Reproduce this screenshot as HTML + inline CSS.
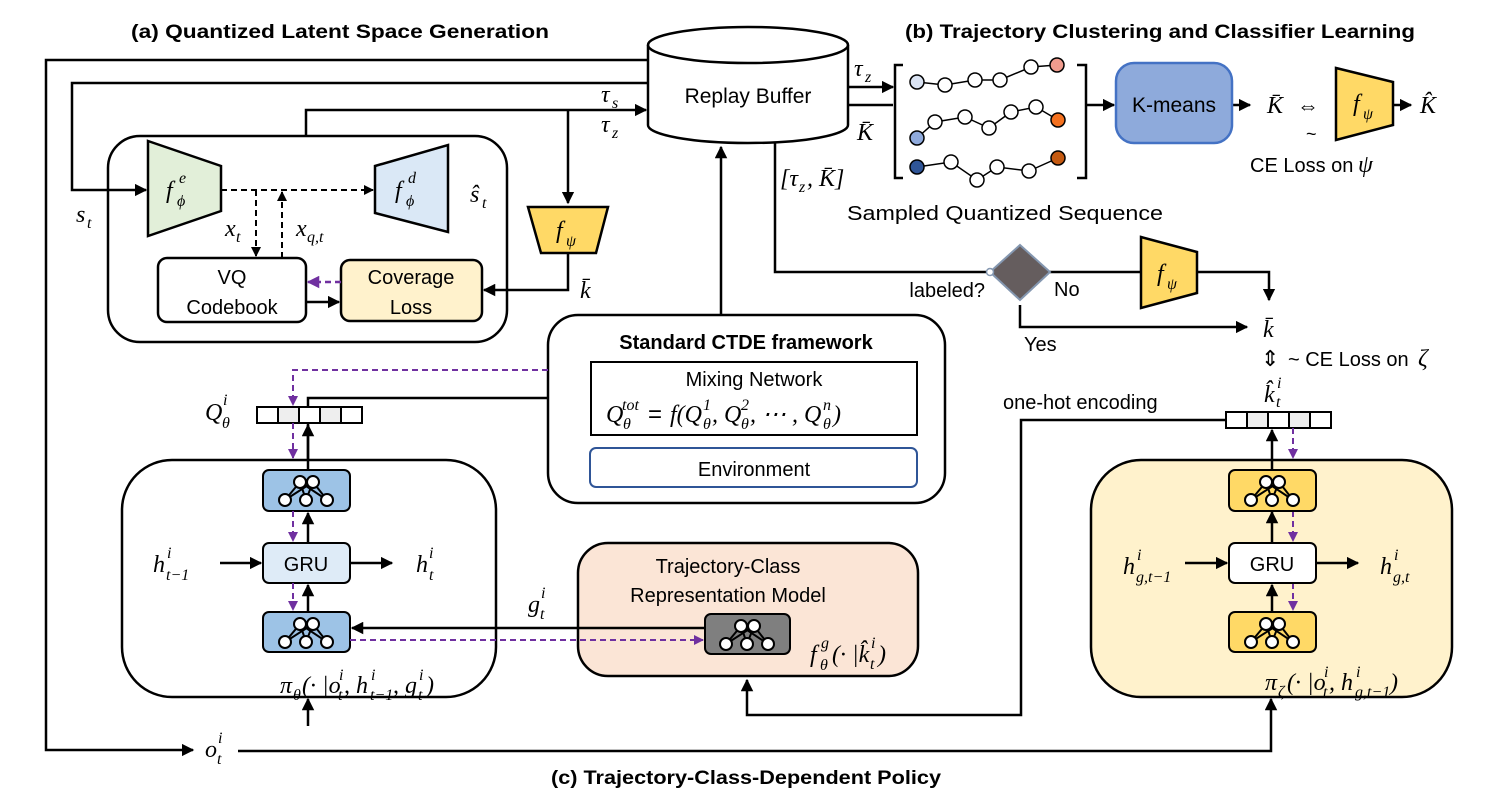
<!DOCTYPE html>
<html><head><meta charset="utf-8"><style>
html,body{margin:0;padding:0;background:#fff;}
svg{display:block;}
text{font-family:"Liberation Sans",sans-serif;fill:#000;}
.m{font-family:"Liberation Serif",serif;font-style:italic;font-size:24px;}
.s{font-family:"Liberation Serif",serif;font-style:italic;font-size:16px;}
.b{font-weight:bold;}
</style></head><body>
<svg width="1496" height="810" viewBox="0 0 1496 810" xmlns="http://www.w3.org/2000/svg">
<defs>
<marker id="a" viewBox="0 0 10 10" refX="9" refY="5" markerWidth="5" markerHeight="5" orient="auto-start-reverse"><path d="M0,0L10,5L0,10z" fill="#000"/></marker>
<marker id="p" viewBox="0 0 10 10" refX="9" refY="5" markerWidth="5" markerHeight="5" orient="auto-start-reverse"><path d="M0,0L10,5L0,10z" fill="#7030a0"/></marker>
<g id="net">
<path d="M37,12L22,30M37,12L43,30M37,12L64,30M50,12L22,30M50,12L43,30M50,12L64,30" stroke="#000" stroke-width="2"/>
<circle cx="37" cy="12" r="6" fill="#fff" stroke="#000" stroke-width="2"/>
<circle cx="50" cy="12" r="6" fill="#fff" stroke="#000" stroke-width="2"/>
<circle cx="22" cy="30" r="6" fill="#fff" stroke="#000" stroke-width="2"/>
<circle cx="43" cy="30" r="6" fill="#fff" stroke="#000" stroke-width="2"/>
<circle cx="64" cy="30" r="6" fill="#fff" stroke="#000" stroke-width="2"/>
</g>
</defs>

<text x="340" y="38" font-size="19" class="b" text-anchor="middle" textLength="418" lengthAdjust="spacingAndGlyphs">(a) Quantized Latent Space Generation</text>
<text x="1160" y="38" font-size="19" class="b" text-anchor="middle" textLength="510" lengthAdjust="spacingAndGlyphs">(b) Trajectory Clustering and Classifier Learning</text>
<text x="746" y="784" font-size="19" class="b" text-anchor="middle" textLength="390" lengthAdjust="spacingAndGlyphs">(c) Trajectory-Class-Dependent Policy</text>

<rect x="108" y="136" width="399" height="206" rx="32" fill="none" stroke="#000" stroke-width="2.5"/>
<rect x="548" y="315" width="397" height="188" rx="30" fill="#fff" stroke="#000" stroke-width="2.5"/>
<rect x="122" y="460" width="374" height="237" rx="50" fill="#fff" stroke="#000" stroke-width="2.5"/>
<rect x="578" y="543" width="340" height="133" rx="30" fill="#fbe5d6" stroke="#000" stroke-width="2.5"/>
<rect x="1091" y="460" width="361" height="237" rx="50" fill="#fff2cc" stroke="#000" stroke-width="2.5"/>

<g fill="none" stroke="#000" stroke-width="2.5">
<path d="M650,60H46V750H193" marker-end="url(#a)"/>
<path d="M238,751H1271V699" marker-end="url(#a)"/>
<path d="M650,83H72V190H146" marker-end="url(#a)"/>
<path d="M306,136V110H646" marker-end="url(#a)"/>
<path d="M568,110V203" marker-end="url(#a)"/>
<path d="M568,253V290H484" marker-end="url(#a)"/>
<path d="M721,315V147" marker-end="url(#a)"/>
<path d="M848,87H893" marker-end="url(#a)"/>
<path d="M848,105H893"/>
<path d="M775,142V272H988"/>
<path d="M1086,105H1114" marker-end="url(#a)"/>
<path d="M1232,105H1250" marker-end="url(#a)"/>
<path d="M1393,105H1411" marker-end="url(#a)"/>
<path d="M1050,272H1141"/>
<path d="M1197,272H1269V300" marker-end="url(#a)"/>
<path d="M1020,305V327H1247" marker-end="url(#a)"/>
<path d="M1226,420H1021V715H747V680" marker-end="url(#a)"/>
<path d="M1272,470V430" marker-end="url(#a)"/>
<path d="M1272,543V512" marker-end="url(#a)"/>
<path d="M1272,612V585" marker-end="url(#a)"/>
<path d="M1185,563H1227" marker-end="url(#a)"/>
<path d="M1316,563H1358" marker-end="url(#a)"/>
<path d="M548,398H308V460"/>
<path d="M308,470V425" marker-end="url(#a)"/>
<path d="M308,543V513" marker-end="url(#a)"/>
<path d="M308,612V585" marker-end="url(#a)"/>
<path d="M308,726V699" marker-end="url(#a)"/>
<path d="M220,563H261" marker-end="url(#a)"/>
<path d="M350,563H392" marker-end="url(#a)"/>
<path d="M705,628H352" marker-end="url(#a)"/>
</g>

<path d="M148,141L221,166V211L148,236Z" fill="#e2efd9" stroke="#000" stroke-width="2.5"/>
<path d="M375,166L448,145V232L375,213Z" fill="#dae8f6" stroke="#000" stroke-width="2.5"/>
<g fill="none" stroke="#000" stroke-width="2" stroke-dasharray="6,4">
<path d="M221,190H373" marker-end="url(#a)"/>
<path d="M256,190V256" marker-end="url(#a)"/>
<path d="M282,258V192" marker-end="url(#a)"/>
</g>
<rect x="158" y="258" width="148" height="64" rx="9" fill="#fff" stroke="#000" stroke-width="2.5"/>
<rect x="341" y="260" width="141" height="61" rx="9" fill="#fff2cc" stroke="#000" stroke-width="2.5"/>
<path d="M341,282H308" stroke="#7030a0" stroke-width="2.5" stroke-dasharray="6,4" fill="none" marker-end="url(#p)"/>
<path d="M306,302H339" stroke="#000" stroke-width="2.5" fill="none" marker-end="url(#a)"/>
<text x="232" y="284" font-size="20" text-anchor="middle">VQ</text>
<text x="232" y="314" font-size="20" text-anchor="middle">Codebook</text>
<text x="411" y="284" font-size="20" text-anchor="middle">Coverage</text>
<text x="411" y="314" font-size="20" text-anchor="middle">Loss</text>
<path d="M528,207H608L596,253H541Z" fill="#ffd966" stroke="#000" stroke-width="2.5"/>
<text class="m" x="556" y="238">f</text><text class="s" x="566" y="246">ψ</text>
<text class="m" x="166" y="198">f</text><text class="s" x="177" y="206">ϕ</text><text class="s" x="179" y="183">e</text>
<text class="m" x="395" y="198">f</text><text class="s" x="406" y="206">ϕ</text><text class="s" x="408" y="183">d</text>
<text class="m" x="470" y="202">ŝ</text><text class="s" x="482" y="208">t</text>
<text class="m" x="76" y="222">s</text><text class="s" x="87" y="228">t</text>
<text class="m" x="225" y="236">x</text><text class="s" x="236" y="242">t</text>
<text class="m" x="296" y="236">x</text><text class="s" x="307" y="242">q,t</text>
<text class="m" x="580" y="298">k̄</text>
<text class="m" x="601" y="102">τ</text><text class="s" x="612" y="108">s</text>
<text class="m" x="601" y="132">τ</text><text class="s" x="612" y="138">z</text>

<path d="M648,45V125A100,18 0 0 0 848,125V45" fill="#fff" stroke="#000" stroke-width="2.5"/>
<ellipse cx="748" cy="45" rx="100" ry="18" fill="#fff" stroke="#000" stroke-width="2.5"/>
<text x="748" y="103" font-size="21" text-anchor="middle">Replay Buffer</text>
<text class="m" x="854" y="76">τ</text><text class="s" x="865" y="82">z</text>
<text class="m" x="857" y="140">K̄</text>
<text class="m" x="780" y="186">[τ</text><text class="s" x="799" y="192">z</text><text class="m" x="807" y="186">, K̄]</text>

<path d="M903,65H895V178H903M1077,65H1086V178H1077" fill="none" stroke="#000" stroke-width="2.5"/>
<g stroke="#000" stroke-width="1.5" fill="none">
<path d="M917,82L945,85L975,80L1000,80L1031,67L1057,65"/>
<path d="M917,138L935,122L965,117L989,128L1011,112L1036,107L1058,120"/>
<path d="M917,167L951,162L977,180L997,167L1029,171L1058,158"/>
</g>
<g stroke="#000" stroke-width="1.5" fill="#fff">
<circle cx="917" cy="82" r="7" fill="#dae3f3"/><circle cx="945" cy="85" r="7"/><circle cx="975" cy="80" r="7"/><circle cx="1000" cy="80" r="7"/><circle cx="1031" cy="67" r="7"/><circle cx="1057" cy="65" r="7" fill="#f19c8e"/>
<circle cx="917" cy="138" r="7" fill="#8faadc"/><circle cx="935" cy="122" r="7"/><circle cx="965" cy="117" r="7"/><circle cx="989" cy="128" r="7"/><circle cx="1011" cy="112" r="7"/><circle cx="1036" cy="107" r="7"/><circle cx="1058" cy="120" r="7" fill="#f4711f"/>
<circle cx="917" cy="167" r="7" fill="#2f5597"/><circle cx="951" cy="162" r="7"/><circle cx="977" cy="180" r="7"/><circle cx="997" cy="167" r="7"/><circle cx="1029" cy="171" r="7"/><circle cx="1058" cy="158" r="7" fill="#c55a11"/>
</g>
<text x="1005" y="220" font-size="20" text-anchor="middle" textLength="316" lengthAdjust="spacingAndGlyphs">Sampled Quantized Sequence</text>
<rect x="1116" y="63" width="116" height="80" rx="18" fill="#8eaadb" stroke="#4472c4" stroke-width="2.5"/>
<text x="1174" y="112" font-size="21" text-anchor="middle">K-means</text>
<text class="m" x="1267" y="113">K̄</text>
<text x="1297" y="113" font-size="22">⇔</text>
<text x="1306" y="140" font-size="18">~</text>
<path d="M1336,68L1393,82V125L1336,140Z" fill="#ffd966" stroke="#000" stroke-width="2.5"/>
<text class="m" x="1353" y="111">f</text><text class="s" x="1363" y="119">ψ</text>
<text class="m" x="1420" y="113">K̂</text>
<text x="1250" y="172" font-size="20">CE Loss on</text><text class="m" x="1358" y="172">ψ</text>

<path d="M1020,245L1050,272L1020,300L990,272Z" fill="#655d5e" stroke="#8497b0" stroke-width="2"/>
<circle cx="990" cy="272" r="3.5" fill="#fff" stroke="#8497b0" stroke-width="1.5"/>
<text x="985" y="297" font-size="20" text-anchor="end">labeled?</text>
<text x="1054" y="296" font-size="20">No</text>
<text x="1024" y="351" font-size="20">Yes</text>
<path d="M1141,237L1197,252V293L1141,308Z" fill="#ffd966" stroke="#000" stroke-width="2.5"/>
<text class="m" x="1157" y="281">f</text><text class="s" x="1167" y="289">ψ</text>
<text class="m" x="1263" y="337">k̄</text>
<text x="1261" y="366" font-size="22">⇕</text>
<text x="1288" y="366" font-size="20">~ CE Loss on</text><text class="m" x="1418" y="366">ζ</text>
<text class="m" x="1264" y="402">k̂</text><text class="s" x="1276" y="407">t</text><text class="s" x="1277" y="388">i</text>
<text x="1003" y="409" font-size="20">one-hot encoding</text>
<g stroke="#000" stroke-width="2" fill="#fff">
<rect x="1226" y="412" width="21" height="16"/><rect x="1247" y="412" width="21" height="16" fill="#eee"/><rect x="1268" y="412" width="21" height="16"/><rect x="1289" y="412" width="21" height="16" fill="#eee"/><rect x="1310" y="412" width="21" height="16"/>
<rect x="257" y="407" width="21" height="16"/><rect x="278" y="407" width="21" height="16" fill="#eee"/><rect x="299" y="407" width="21" height="16"/><rect x="320" y="407" width="21" height="16" fill="#eee"/><rect x="341" y="407" width="21" height="16"/>
</g>
<text class="m" x="205" y="420">Q</text><text class="s" x="222" y="428">θ</text><text class="s" x="223" y="405">i</text>

<text x="746" y="349" font-size="20" class="b" text-anchor="middle">Standard CTDE framework</text>
<rect x="591" y="362" width="326" height="73" fill="none" stroke="#000" stroke-width="2"/>
<text x="754" y="386" font-size="20" text-anchor="middle">Mixing Network</text>
<text class="m" x="606" y="422">Q</text><text class="s" x="623" y="429">θ</text><text class="s" x="622" y="410">tot</text>
<text x="648" y="422" font-size="24" font-family="Liberation Serif">=</text>
<text class="m" x="670" y="422">f(Q</text><text class="s" x="703" y="429">θ</text><text class="s" x="703" y="410">1</text>
<text class="m" x="712" y="422">, Q</text><text class="s" x="741" y="429">θ</text><text class="s" x="741" y="410">2</text>
<text class="m" x="750" y="422">, ⋯ , Q</text><text class="s" x="823" y="429">θ</text><text class="s" x="823" y="410">n</text>
<text class="m" x="833" y="422">)</text>
<rect x="590" y="448" width="327" height="39" rx="6" fill="#fff" stroke="#2f5597" stroke-width="2"/>
<text x="754" y="476" font-size="20" text-anchor="middle">Environment</text>
<path d="M548,370H293V405" stroke="#7030a0" stroke-width="2" stroke-dasharray="6,4" fill="none" marker-end="url(#p)"/>

<rect x="263" y="470" width="87" height="41" rx="6" fill="#9dc3e6" stroke="#000" stroke-width="2"/>
<use href="#net" x="263" y="470"/>
<rect x="263" y="543" width="87" height="40" rx="6" fill="#deebf7" stroke="#000" stroke-width="2"/>
<text x="306" y="571" font-size="20" text-anchor="middle">GRU</text>
<rect x="263" y="612" width="87" height="40" rx="6" fill="#9dc3e6" stroke="#000" stroke-width="2"/>
<use href="#net" x="263" y="612"/>
<g stroke="#7030a0" stroke-width="2" stroke-dasharray="6,4" fill="none">
<path d="M293,423V458" marker-end="url(#p)"/>
<path d="M293,511V541" marker-end="url(#p)"/>
<path d="M293,583V610" marker-end="url(#p)"/>
<path d="M350,640H703" marker-end="url(#p)"/>
<path d="M1293,428V458" marker-end="url(#p)"/>
<path d="M1293,511V541" marker-end="url(#p)"/>
<path d="M1293,583V610" marker-end="url(#p)"/>
</g>
<text class="m" x="153" y="572">h</text><text class="s" x="166" y="580">t−1</text><text class="s" x="167" y="558">i</text>
<text class="m" x="416" y="572">h</text><text class="s" x="429" y="580">t</text><text class="s" x="429" y="558">i</text>
<text class="m" x="280" y="693">π</text><text class="s" x="293" y="700">θ</text><text class="m" x="302" y="693">(· |o</text><text class="s" x="338" y="700">t</text><text class="s" x="339" y="680">i</text>
<text class="m" x="344" y="693">, h</text><text class="s" x="370" y="700">t−1</text><text class="s" x="371" y="680">i</text>
<text class="m" x="393" y="693">, g</text><text class="s" x="418" y="700">t</text><text class="s" x="419" y="680">i</text><text class="m" x="426" y="693">)</text>
<text class="m" x="528" y="612">g</text><text class="s" x="540" y="619">t</text><text class="s" x="541" y="598">i</text>
<text class="m" x="205" y="757">o</text><text class="s" x="217" y="764">t</text><text class="s" x="218" y="743">i</text>

<text x="728" y="573" font-size="20" text-anchor="middle">Trajectory-Class</text>
<text x="728" y="602" font-size="20" text-anchor="middle">Representation Model</text>
<rect x="705" y="614" width="85" height="40" rx="6" fill="#7f7f7f" stroke="#000" stroke-width="2"/>
<use href="#net" x="704" y="614"/>
<text class="m" x="810" y="662">f</text><text class="s" x="820" y="670">θ</text><text class="s" x="821" y="648">g</text>
<text class="m" x="832" y="662">(· |k̂</text><text class="s" x="870" y="669">t</text><text class="s" x="871" y="648">i</text><text class="m" x="878" y="662">)</text>

<rect x="1229" y="470" width="87" height="41" rx="6" fill="#ffd966" stroke="#000" stroke-width="2"/>
<use href="#net" x="1229" y="470"/>
<rect x="1229" y="543" width="87" height="40" rx="6" fill="#fff" stroke="#000" stroke-width="2"/>
<text x="1272" y="571" font-size="20" text-anchor="middle">GRU</text>
<rect x="1229" y="612" width="87" height="40" rx="6" fill="#ffd966" stroke="#000" stroke-width="2"/>
<use href="#net" x="1229" y="612"/>
<text class="m" x="1123" y="574">h</text><text class="s" x="1136" y="582">g,t−1</text><text class="s" x="1137" y="560">i</text>
<text class="m" x="1380" y="574">h</text><text class="s" x="1393" y="582">g,t</text><text class="s" x="1394" y="560">i</text>
<text class="m" x="1265" y="690">π</text><text class="s" x="1278" y="697">ζ</text><text class="m" x="1287" y="690">(· |o</text><text class="s" x="1323" y="697">t</text><text class="s" x="1324" y="677">i</text>
<text class="m" x="1329" y="690">, h</text><text class="s" x="1355" y="697">g,t−1</text><text class="s" x="1356" y="677">i</text><text class="m" x="1390" y="690">)</text>
</svg>
</body></html>
